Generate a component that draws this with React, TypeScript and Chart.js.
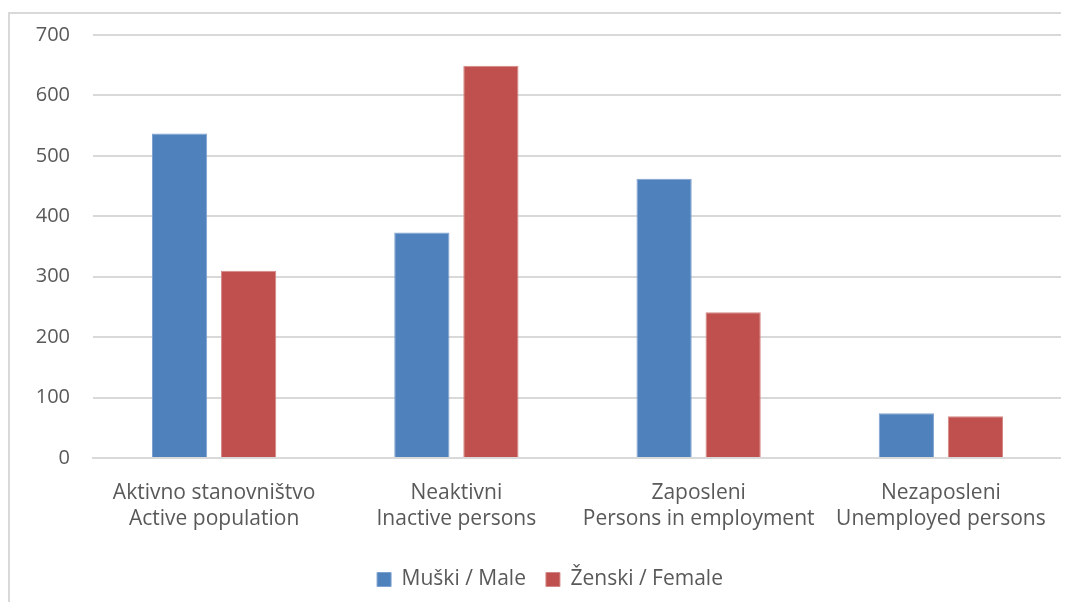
import React, { useEffect, useRef } from "react";
import { Chart, registerables } from "chart.js";

Chart.register(...registerables);

const categories: string[][] = [
  ["Aktivno stanovništvo", "Active population"],
  ["Neaktivni", "Inactive persons"],
  ["Zaposleni", "Persons in employment"],
  ["Nezaposleni", "Unemployed persons"],
];
const maleLabel = "Muški / Male";
const femaleLabel = "Ženski / Female";
const maleValues = [537, 373, 462, 74];
const femaleValues = [310, 649, 241, 69];
const yTicks = [0, 100, 200, 300, 400, 500, 600, 700];

const FONT = "Open Sans";
const TEXT = "#595959";

const legendShift = {
  id: "legendShift",
  afterLayout(chart: any) {
    const lg = chart.legend;
    if (lg) {
      lg.left += 19;
      lg.right += 19;
    }
  },
};

export default function App() {
  const ref = useRef<HTMLCanvasElement | null>(null);

  useEffect(() => {
    if (!ref.current) return;
    const chart = new Chart(ref.current, {
      type: "bar",
      data: {
        labels: categories,
        datasets: [
          {
            label: maleLabel,
            data: maleValues,
            backgroundColor: "#4F81BD",
            borderColor: "#7ea1cf",
            borderWidth: 1,
            categoryPercentage: 0.57,
            barPercentage: 0.8,
          },
          {
            label: femaleLabel,
            data: femaleValues,
            backgroundColor: "#C0504D",
            borderColor: "#d38886",
            borderWidth: 1,
            categoryPercentage: 0.57,
            barPercentage: 0.8,
          },
        ],
      },
      plugins: [legendShift],
      options: {
        animation: false,
        responsive: false,
        maintainAspectRatio: false,
        layout: { padding: { left: 0, right: 7, top: 24, bottom: 10 } },
        plugins: {
          tooltip: { enabled: false },
          legend: {
            position: "bottom",
            labels: {
              color: TEXT,
              font: { family: FONT, size: 21 },
              boxWidth: 14,
              boxHeight: 14,
              padding: 20,
              useBorderRadius: false,
            },
          },
        },
        scales: {
          x: {
            grid: { display: false, drawTicks: false },
            border: { color: "#d9d9d9", width: 2 },
            ticks: {
              color: TEXT,
              font: { family: FONT, size: 21, lineHeight: 1.24 },
              padding: 22,
              maxRotation: 0,
              autoSkip: false,
            },
            afterFit: (s: any) => {
              s.height = 91;
            },
          },
          y: {
            min: 0,
            max: 700,
            afterBuildTicks: (s: any) => {
              s.ticks = yTicks.map((v) => ({ value: v }));
            },
            grid: { color: "#d9d9d9", lineWidth: 2, drawTicks: false },
            border: { display: false },
            ticks: {
              color: TEXT,
              font: { family: FONT, size: 20 },
              padding: 23,
            },
            afterFit: (s: any) => {
              s.width = 93;
            },
          },
        },
      },
    });
    return () => chart.destroy();
  }, []);

  return (
    <div style={{ position: "relative", margin: -8, width: 1069, height: 610, overflow: "hidden" }}>
      <div
        style={{
          position: "absolute",
          left: 8,
          top: 12,
          width: 2000,
          height: 2000,
          borderLeft: "2px solid #d9d9d9",
          borderTop: "2px solid #d9d9d9",
        }}
      />
      <canvas ref={ref} width={1069} height={610} style={{ position: "absolute", left: 0, top: 0 }} />
    </div>
  );
}
